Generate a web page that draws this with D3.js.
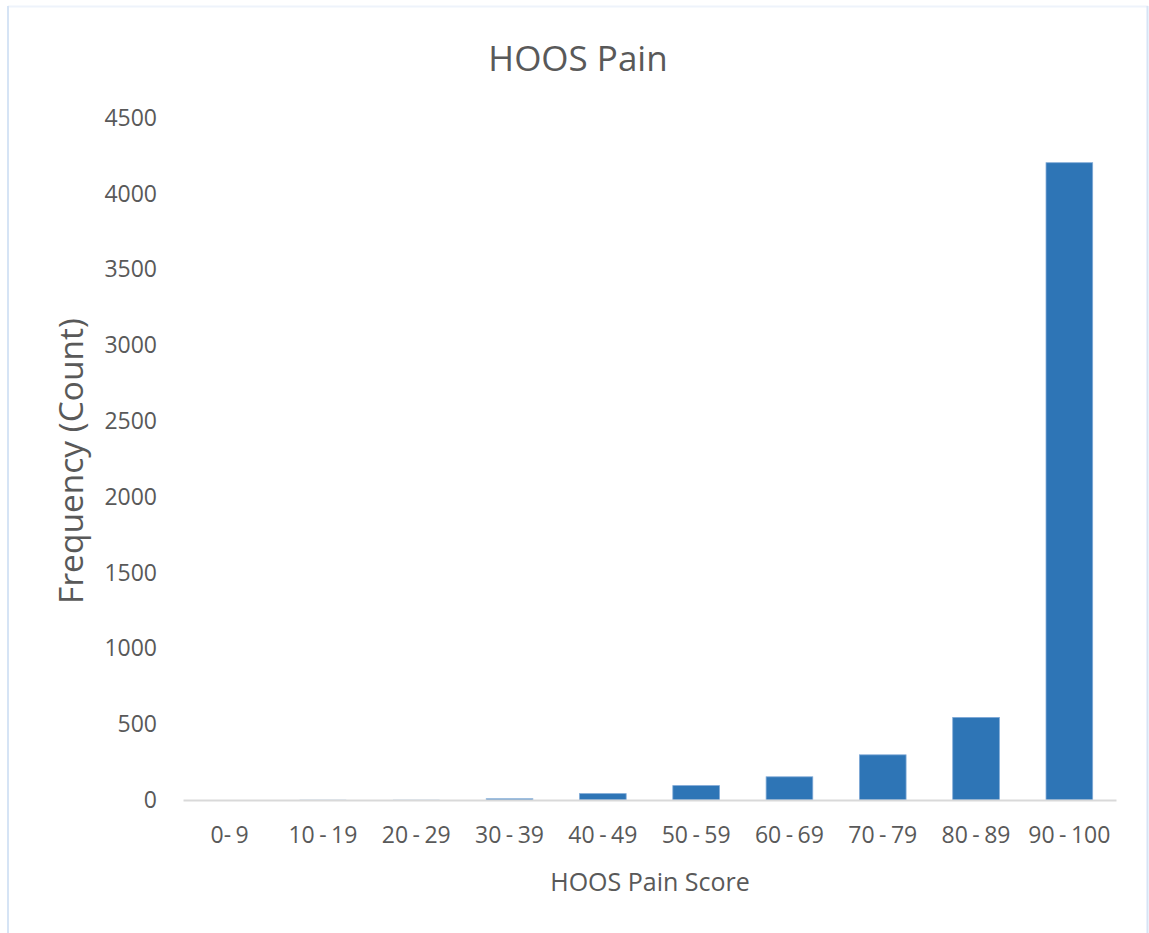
<!DOCTYPE html>
<html>
<head>
<meta charset="utf-8">
<script src="https://cdn.jsdelivr.net/npm/d3@7"></script>
<style>
  html, body { margin: 0; padding: 0; background: #ffffff; }
  svg { display: block; }
  text { font-family: "Open Sans", "Noto Sans", sans-serif; fill: #595959; }
</style>
</head>
<body>
<svg id="chart" width="1149" height="933"></svg>
<script>
// HOOS Pain score bins and their counts
const categories = ["0- 9", "10 - 19", "20 - 29", "30 - 39", "40 - 49",
                    "50 - 59", "60 - 69", "70 - 79", "80 - 89", "90 - 100"];
const counts = [0, 1, 1, 8, 42, 95, 153, 298, 545, 4205];
const yTicks = [0, 500, 1000, 1500, 2000, 2500, 3000, 3500, 4000, 4500];

const chartTitle = "HOOS Pain";
const xTitle = "HOOS Pain Score";
const yTitle = "Frequency (Count)";

const svg = d3.select("#chart");
const W = 1149, H = 933;
const plot = { left: 183, right: 1116, top: 118, bottom: 800 };
const labelFont = "\"Open Sans\", sans-serif";

// outer frame of the chart area
svg.append("line").attr("x1", 8).attr("x2", 1148).attr("y1", 6.5).attr("y2", 6.5)
  .attr("stroke", "#eef3fb").attr("stroke-width", 2);
svg.append("line").attr("x1", 8).attr("x2", 8).attr("y1", 6).attr("y2", H)
  .attr("stroke", "#d6e4f5").attr("stroke-width", 2);
svg.append("line").attr("x1", 1147.5).attr("x2", 1147.5).attr("y1", 6).attr("y2", H)
  .attr("stroke", "#d6e4f5").attr("stroke-width", 2);

const x = d3.scaleBand()
  .domain(categories)
  .range([plot.left, plot.right])
  .paddingInner(0.5)
  .paddingOuter(0.25);

const y = d3.scaleLinear()
  .domain([0, 4500])
  .range([plot.bottom, plot.top]);

// bars
svg.append("g")
  .selectAll("rect")
  .data(categories.map((c, i) => ({ c, v: counts[i] })))
  .join("rect")
  .attr("x", d => x(d.c))
  .attr("width", x.bandwidth())
  .attr("y", d => y(d.v))
  .attr("height", d => y(0) - y(d.v))
  .attr("fill", "#2e75b6")
  .attr("stroke", d => d.v >= 5 ? "#7fa9d6" : "none")
  .attr("stroke-width", 0.8);

// category axis
const xAxis = svg.append("g")
  .attr("transform", `translate(0,${plot.bottom})`)
  .call(d3.axisBottom(x).tickSize(0).tickPadding(27));
xAxis.select(".domain").attr("stroke", "#d9d9d9").attr("stroke-width", 2);
xAxis.selectAll("text")
  .style("font-family", labelFont)
  .style("font-size", "23px")
  .style("word-spacing", "-1.5px")
  .attr("fill", "#595959");

// value axis (labels only)
const yAxis = svg.append("g")
  .attr("transform", `translate(${plot.left - 26},0)`)
  .call(d3.axisLeft(y).tickValues(yTicks).tickFormat(d3.format("d")).tickSize(0).tickPadding(0));
yAxis.select(".domain").remove();
yAxis.selectAll("text")
  .style("font-family", labelFont)
  .style("font-size", "23px")
  .attr("fill", "#595959");

// titles
svg.append("text")
  .attr("x", 578).attr("y", 71)
  .attr("text-anchor", "middle")
  .style("font-size", "35px")
  .text(chartTitle);

svg.append("text")
  .attr("x", 650).attr("y", 891)
  .attr("text-anchor", "middle")
  .style("font-size", "25px")
  .text(xTitle);

svg.append("text")
  .attr("transform", "translate(83,461) rotate(-90)")
  .attr("text-anchor", "middle")
  .style("font-size", "33.5px")
  .text(yTitle);
</script>
</body>
</html>
